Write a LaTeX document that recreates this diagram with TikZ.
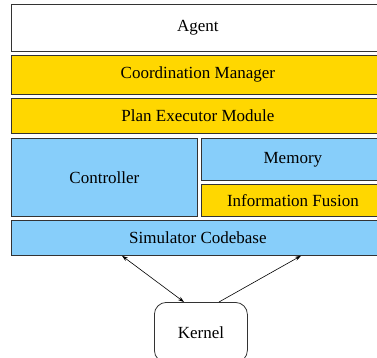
\documentclass[tikz,border=0pt]{standalone}
\usepackage{fontspec}
\setmainfont{Liberation Serif}[Ligatures=TeX]
\usetikzlibrary{arrows.meta,calc}
\definecolor{goldbox}{HTML}{FFD700}
\definecolor{bluebox}{HTML}{87CEFA}
\begin{document}
\begin{tikzpicture}[x=1pt,y=-1pt,
    layer/.style={draw=black!80,line width=0.8pt,anchor=north west,inner sep=0pt,
      font=\rmfamily\fontsize{17}{20}\selectfont},
    goldlayer/.style={layer,fill=goldbox},
    bluelayer/.style={layer,fill=bluebox},
    link/.style={line width=0.6pt,>={Stealth[length=6pt,width=4pt]}}]
  \useasboundingbox (0,0) rectangle (377,358);
  % Capas
  \node[layer,fill=white,minimum width=373pt,minimum height=47pt] (agent) at (11,4) {Agent};
  \node[goldlayer,minimum width=373pt,minimum height=39pt] (coord) at (11,55) {Coordination Manager};
  \node[goldlayer,minimum width=373pt,minimum height=35pt] (plan) at (11,98) {Plan Executor Module};
  \node[bluelayer,minimum width=186pt,minimum height=78pt] (ctrl) at (11,138) {Controller};
  \node[bluelayer,minimum width=183pt,minimum height=42pt] (mem) at (201,138) {Memory};
  \node[goldlayer,minimum width=183pt,minimum height=32pt] (fusion) at (201,184) {Information Fusion};
  \node[bluelayer,minimum width=373pt,minimum height=35pt] (sim) at (11,220) {Simulator Codebase};
  % Nucleo
  \node[layer,rounded corners=12pt,minimum width=93pt,minimum height=60pt] (kernel) at (154,302) {Kernel};
  \draw[link,<->] ($(sim.south west)+(111,0)$) -- ($(kernel.north west)+(30,0)$);
  \draw[link,->] ($(kernel.north west)+(65,0)$) -- ($(sim.south west)+(290,0)$);
\end{tikzpicture}
\end{document}
